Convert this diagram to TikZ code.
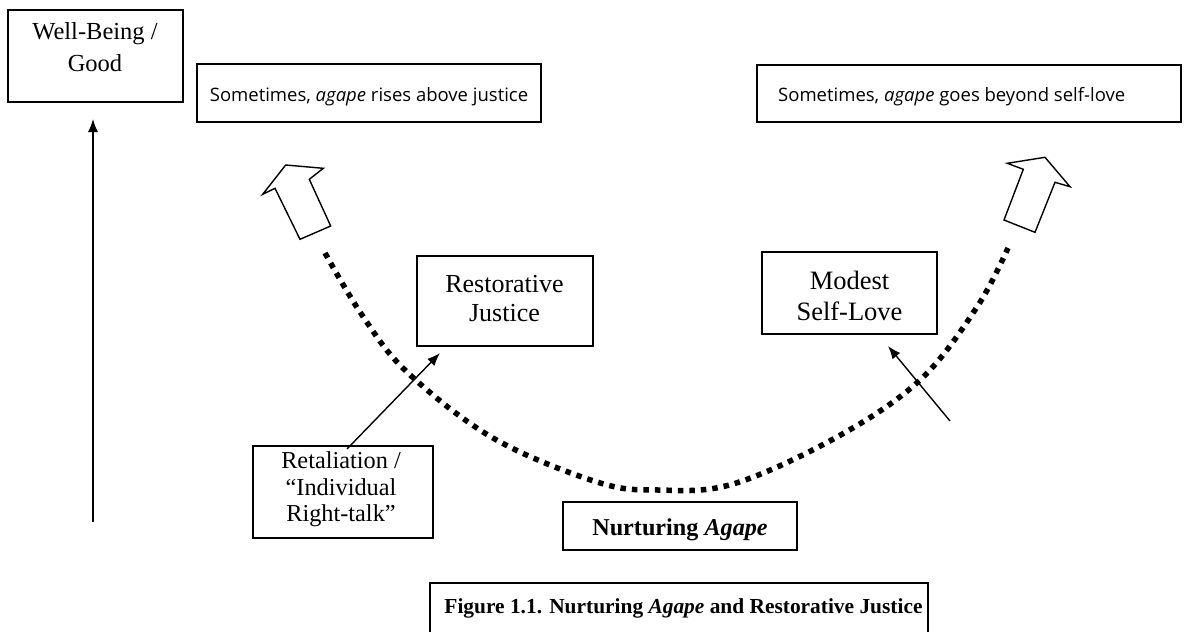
\documentclass[tikz,border=0pt]{standalone}
\usepackage{fontspec}
\setmainfont{Liberation Serif}
\newfontfamily\uifont{Open Sans}
\usetikzlibrary{arrows.meta}
\begin{document}
\begin{tikzpicture}[x=1pt,y=-1pt,
  box/.style={draw,line width=1.4pt,inner sep=0pt},
  txt/.style={anchor=base,inner sep=0pt},
  ui/.style={font=\uifont\fontsize{18.5}{22}\selectfont},
  blockarrow/.style={draw,line width=1.4pt,fill=white,line join=miter},
  conn/.style={line width=1.4pt,-{Latex[length=13pt,width=10pt]}},
  dots/.style={line width=5.5pt,dash pattern=on 5.5pt off 6pt}]
\useasboundingbox (0,0) rectangle (1192,632);
\clip (0,0) rectangle (1192,632);
% boxes
\node[box,minimum width=175pt,minimum height=92pt] (wb) at (95.5,56) {};
\node[txt,font=\fontsize{24.5}{33}\selectfont] (wb1) at (95,39.3) {Well-Being /};
\node[txt,font=\fontsize{24.5}{33}\selectfont] (wb2) at (95,71.7) {Good};
\node[box,minimum width=344pt,minimum height=58pt] (rise) at (369,93) {};
\node[txt,ui] (riset) at (369,101.7) {Sometimes, \textit{agape} rises above justice};
\node[box,minimum width=424pt,minimum height=57pt] (beyond) at (969,93.5) {};
\node[txt,ui,anchor=base west] (beyondt) at (778,101.7) {Sometimes, \textit{agape} goes beyond self-love};
\node[box,minimum width=176pt,minimum height=90pt] (rj) at (505,301) {};
\node[txt,font=\fontsize{26}{29}\selectfont] (rj1) at (504.5,292) {Restorative};
\node[txt,font=\fontsize{26}{29}\selectfont] (rj2) at (504.5,321) {Justice};
\node[box,minimum width=175pt,minimum height=82pt] (msl) at (849.5,293) {};
\node[txt,font=\fontsize{26.5}{31}\selectfont] (msl1) at (849.5,289.3) {Modest};
\node[txt,font=\fontsize{26.5}{31}\selectfont] (msl2) at (849.5,320) {Self-Love};
\node[box,minimum width=180pt,minimum height=92pt] (ret) at (343,492) {};
\node[txt,font=\fontsize{24.3}{27}\selectfont] (ret1) at (341,468.3) {Retaliation /};
\node[txt,font=\fontsize{24.3}{27}\selectfont] (ret2) at (341,495) {``Individual};
\node[txt,font=\fontsize{24.3}{27}\selectfont] (ret3) at (341,521.7) {Right-talk''};
\node[box,minimum width=234pt,minimum height=48pt] (na) at (680,526) {};
\node[txt,font=\fontsize{24.2}{28}\selectfont\bfseries] (nat) at (680,535) {Nurturing \textit{Agape}};
\node[box,minimum width=498pt,minimum height=70pt] (cap) at (679,618) {};
\node[txt,font=\fontsize{21.4}{25}\selectfont\bfseries] (capt) at (683.5,613.3) {Figure 1.1. Nurturing \textit{Agape} and Restorative Justice};
% vertical arrow
\coordinate (vb) at (93,522);
\coordinate (vt) at (93,119);
\draw[conn] (vb) -- (vt);
% small arrows
\coordinate (ra) at (347,449);
\draw[conn] (ra) -- (440,353);
\coordinate (ma) at (950,421);
\draw[conn] (ma) -- (888,346);
% dotted arc
\draw[dots] plot[smooth,tension=0.6] coordinates {(325,253) (362,315) (407,372) (493,438) (597,482) (658,490) (733,484) (837,437) (920,380) (977,307) (1008,248)};
% block arrows
\draw[blockarrow] (285.7,165) -- (323.3,168.3) -- (309.3,179.3) -- (330.7,226) -- (300,239.3) -- (275,188.3) -- (262.7,194.3) -- cycle;
\draw[blockarrow] (1045,157.3) -- (1070,186.7) -- (1055,182.3) -- (1035,232.3) -- (1004,220) -- (1023.3,169.3) -- (1007.3,163.3) -- cycle;
\end{tikzpicture}
\end{document}
